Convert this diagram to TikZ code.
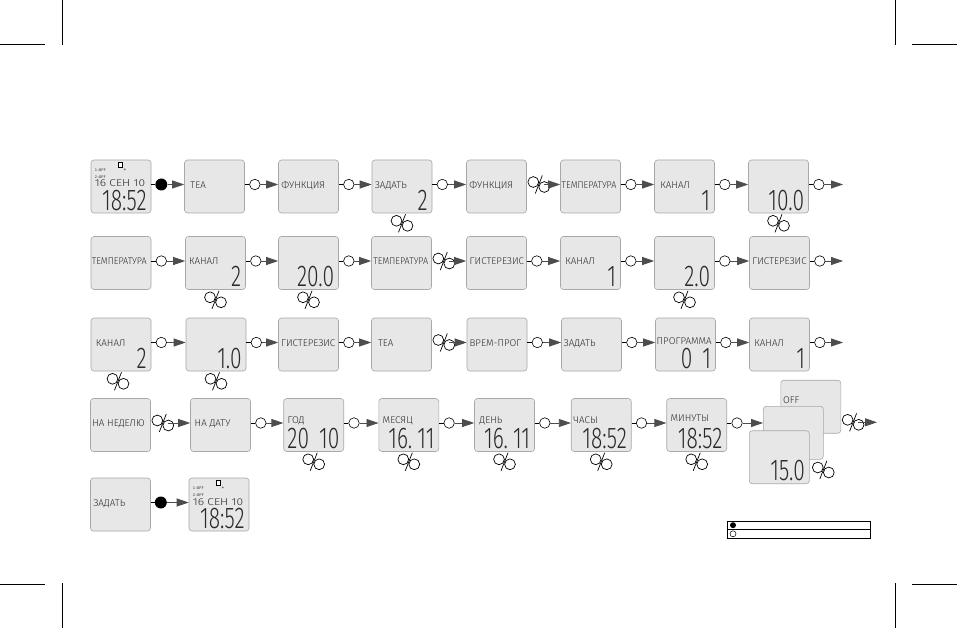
\documentclass[tikz,border=0pt]{standalone}
\usepackage{fontspec}
\usepackage{graphicx}
\usetikzlibrary{arrows.meta,calc}
\newfontfamily\lcdfont{Fira Sans Light}
\newfontfamily\monofont{DejaVu Sans Mono}
\newfontfamily\digfont[FakeStretch=0.7]{Fira Sans Light}
\definecolor{scrfill}{HTML}{E7E7E7}
\definecolor{scrdraw}{HTML}{A8A8A8}
\definecolor{arrgray}{HTML}{4D4D4D}
\definecolor{lcdtext}{HTML}{2A2A2A}
\newcommand\conO[2]{%
  \node[oc] (o#1) at ($([yshift=2pt]#1.east)+(10,0)$) {};
  \draw[cline] ([yshift=2pt]#1.east) -- (o#1.west);
  \draw[carr] (o#1.east) -- (o#1.east -| #2.west);}
\newcommand\conB[2]{%
  \node[bc] (b#1) at ($([yshift=2pt]#1.east)+(10,0)$) {};
  \draw[cline] ([yshift=2pt]#1.east) -- (b#1.west);
  \draw[carr] (b#1.east) -- (b#1.east -| #2.west);}
\newcommand\conK[2]{%
  \pic at ($([yshift=2pt]#1.east)+(12,0)$) {knob};
  \coordinate (k#1) at ($([yshift=2pt]#1.east)+(17,0)$);
  \draw[carr] (k#1) -- (k#1 -| #2.west);}
\newcommand\undK[2][0]{\pic at ($(#2.south)+(#1,10)$) {knob};}
\newcommand\lab[4][0]{\node[lbl] (t#2) at ([xshift=#3pt,yshift=#1pt-1.6pt]#2.west) {#4};}
\newcommand\dig[2]{\node[digs] (d#1) at ([xshift=-4.5pt,yshift=3pt]#1.south east) {#2};}
\newcommand\clockcontent[1]{%
  \node[tinyt] (#1a) at ([xshift=4pt,yshift=16pt]#1.west) {1:OFF};
  \node[tinyt] (#1b) at ([xshift=4pt,yshift=9.5pt]#1.west) {2:OFF};
  \node[draw=black, fill=white, line width=0.8pt, minimum size=4.5pt, inner sep=0pt] (#1i) at ([xshift=-0.5pt,yshift=21.5pt]#1.center) {};
  \node[tinyt, anchor=center, font=\monofont\fontsize{5}{5}\selectfont] (#1s) at ([xshift=4pt,yshift=15.5pt]#1.center) {*};
  \node[lbl, font=\lcdfont\fontsize{10}{10}\selectfont] (#1d) at ([xshift=4pt,yshift=-0.5pt]#1.west) {\scalebox{1.2}[1]{16 СЕН 10}};
  \node[digs] (#1t) at ([xshift=-4.5pt,yshift=2.5pt]#1.south east) {18:52};}
\begin{document}
\begin{tikzpicture}[x=1pt,y=-1pt,
  scr/.style={draw=scrdraw, fill=scrfill, rounded corners=3pt, minimum width=60pt, minimum height=53pt, inner sep=0pt, line width=0.6pt},
  lbl/.style={anchor=base west, inner sep=0pt, font=\lcdfont\fontsize{9.8}{9.8}\selectfont, text=lcdtext},
  tinyt/.style={anchor=west, inner sep=0pt, font=\monofont\fontsize{3.6}{4}\selectfont, text=lcdtext},
  digs/.style={anchor=south east, inner sep=0pt, text height=20pt, text depth=0pt, font=\digfont\fontsize{30}{30}\selectfont, text=lcdtext},
  oc/.style={circle, draw=black, fill=white, minimum size=10.5pt, inner sep=0pt, line width=0.6pt},
  bc/.style={circle, fill=black, minimum size=12pt, inner sep=0pt},
  cline/.style={draw=black, line width=0.6pt},
  carr/.style={draw=arrgray, line width=0.8pt, -{Triangle[length=12pt,width=8pt]}},
  knobline/.style={draw=black, line width=0.7pt},
  knob/.pic={\draw[knobline, fill=white] (-5.5,-2.5) circle[radius=5.4pt] (5.5,2.5) circle[radius=5.4pt]; \draw[knobline] (-3.5,9) -- (3.5,-9);},
  crop/.style={draw=black, line width=0.5pt}
]
\fill[white] (0,0) rectangle (957,628);
\useasboundingbox (0,0) rectangle (957,628);
% crop marks
\draw[crop] (62,0) -- (62,45) (0,44) -- (45,44);
\draw[crop] (895,0) -- (895,45) (912,44) -- (957,44);
\draw[crop] (62,583) -- (62,628) (0,584) -- (45,584);
\draw[crop] (895,583) -- (895,628) (912,584) -- (957,584);
% ---------- row 1
\node[scr] (r1c1) at (121,186.5) {};
\node[scr] (r1c2) at (214.5,186.5) {};
\node[scr] (r1c3) at (308.5,186.5) {};
\node[scr] (r1c4) at (402,186.5) {};
\node[scr] (r1c5) at (496.5,186.5) {};
\node[scr] (r1c6) at (590.5,186.5) {};
\node[scr] (r1c7) at (684.5,186.5) {};
\node[scr] (r1c8) at (778.5,186.5) {};
\clockcontent{r1c1}
\lab{r1c2}{6}{ТЕА}
\lab{r1c3}{3}{ФУНКЦИЯ}
\lab{r1c4}{3}{ЗАДАТЬ}\dig{r1c4}{2}
\lab{r1c5}{3}{ФУНКЦИЯ}
\lab{r1c6}{1.3}{\scalebox{0.92}[1]{ТЕМПЕРАТУРА}}
\lab{r1c7}{6}{КАНАЛ}\dig{r1c7}{1}
\dig{r1c8}{10.0}
\undK{r1c4}\undK{r1c8}
\coordinate (e1) at (843,184.5);
\conB{r1c1}{r1c2}
\conO{r1c2}{r1c3}
\conO{r1c3}{r1c4}
\conO{r1c4}{r1c5}
\conK{r1c5}{r1c6}
\conO{r1c6}{r1c7}
\conO{r1c7}{r1c8}
\conO{r1c8}{e1}
% ---------- row 2
\node[scr] (r2c1) at (121,263) {};
\node[scr] (r2c2) at (215.5,263) {};
\node[scr] (r2c3) at (308.5,263) {};
\node[scr] (r2c4) at (401.5,263) {};
\node[scr] (r2c5) at (496.5,263) {};
\node[scr] (r2c6) at (590.5,263) {};
\node[scr] (r2c7) at (684.5,263) {};
\node[scr] (r2c8) at (779.5,263) {};
\lab{r2c1}{1}{\scalebox{0.92}[1]{ТЕМПЕРАТУРА}}
\lab{r2c2}{3.6}{КАНАЛ}\dig{r2c2}{2}
\dig{r2c3}{20.0}
\lab{r2c4}{2}{\scalebox{0.92}[1]{ТЕМПЕРАТУРА}}
\lab{r2c5}{3.3}{ГИСТЕРЕЗИС}
\lab{r2c6}{5}{КАНАЛ}\dig{r2c6}{1}
\dig{r2c7}{2.0}
\lab{r2c8}{3}{ГИСТЕРЕЗИС}
\undK{r2c2}\undK{r2c3}\undK{r2c7}
\coordinate (e2) at (843,261);
\conO{r2c1}{r2c2}
\conO{r2c2}{r2c3}
\conO{r2c3}{r2c4}
\conK{r2c4}{r2c5}
\conO{r2c5}{r2c6}
\conO{r2c6}{r2c7}
\conO{r2c7}{r2c8}
\conO{r2c8}{e2}
% ---------- row 3
\node[scr] (r3c1) at (121,344.5) {};
\node[scr] (r3c2) at (216,344.5) {};
\node[scr] (r3c3) at (308.5,344.5) {};
\node[scr] (r3c4) at (401.5,344.5) {};
\node[scr] (r3c5) at (497,344.5) {};
\node[scr] (r3c6) at (591.5,344.5) {};
\node[scr] (r3c7) at (685.5,344.5) {};
\node[scr] (r3c8) at (779.5,344.5) {};
\lab{r3c1}{5}{КАНАЛ}\dig{r3c1}{2}
\dig{r3c2}{1.0}
\lab{r3c3}{2.7}{ГИСТЕРЕЗИС}
\lab{r3c4}{6.6}{ТЕА}
\lab{r3c5}{2.7}{ВРЕМ-ПРОГ}
\lab{r3c6}{2.3}{ЗАДАТЬ}
\lab[1.5]{r3c7}{1.3}{ПРОГРАММА}\dig{r3c7}{0\,\,1}
\lab{r3c8}{5}{КАНАЛ}\dig{r3c8}{1}
\undK[-3]{r3c1}\undK{r3c2}
\coordinate (e3) at (843,342.5);
\conO{r3c1}{r3c2}
\conO{r3c2}{r3c3}
\conO{r3c3}{r3c4}
\conK{r3c4}{r3c5}
\conO{r3c5}{r3c6}
\conO{r3c6}{r3c7}
\conO{r3c7}{r3c8}
\conO{r3c8}{e3}
% ---------- row 4
\node[scr] (r4c1) at (120.5,425) {};
\node[scr] (r4c2) at (220.5,425) {};
\node[scr] (r4c3) at (313.7,425) {};
\node[scr] (r4c4) at (408.8,425) {};
\node[scr] (r4c5) at (504.5,425) {};
\node[scr] (r4c6) at (601.2,425) {};
\node[scr] (r4c7) at (696.7,425) {};
\lab{r4c1}{2}{НА НЕДЕЛЮ}
\lab{r4c2}{4.3}{НА ДАТУ}
\lab[3]{r4c3}{4}{ГОД}\dig{r4c3}{20\,\,10}
\lab[3]{r4c4}{4}{МЕСЯЦ}\dig{r4c4}{16.\,11}
\lab[3]{r4c5}{5}{ДЕНЬ}\dig{r4c5}{16.\,11}
\lab[3]{r4c6}{2.3}{ЧАСЫ}\dig{r4c6}{18:52}
\lab[5]{r4c7}{4}{МИНУТЫ}\dig{r4c7}{18:52}
\undK{r4c3}\undK{r4c4}\undK{r4c5}\undK{r4c6}\undK{r4c7}
% stack
\node[scr] (sb) at (810.8,406.7) {};
\node[scr] (sm) at (793.3,432.8) {};
\node[scr] (sf) at (779.3,457.2) {};
\node[lbl] (tsb) at ([xshift=2.5pt,yshift=3.3pt]sb.west) {OFF};
\dig{sf}{15.0}
\pic at ($(sf.east)+(13.7,12.8)$) {knob};
\coordinate (e4) at (877,422.3);
\pic at ($(sb.east)+(12,15.6)$) {knob};
\coordinate (ksb) at ($(sb.east)+(17,15.6)$);
\draw[carr] (ksb) -- (e4);
\conK{r4c1}{r4c2}
\conO{r4c2}{r4c3}
\conO{r4c3}{r4c4}
\conO{r4c4}{r4c5}
\conO{r4c5}{r4c6}
\conO{r4c6}{r4c7}
\conO{r4c7}{sm}
% ---------- row 5
\node[scr] (r5c1) at (120.5,504.5) {};
\node[scr] (r5c2) at (219,504.5) {};
\lab{r5c1}{3}{ЗАДАТЬ}
\clockcontent{r5c2}
\conB{r5c1}{r5c2}
% ---------- legend
\node[draw=black, line width=0.6pt, minimum width=143pt, minimum height=17pt, inner sep=0pt] (leg) at (798.5,529.5) {};
\draw[line width=0.5pt] (leg.west) -- (leg.east);
\node[circle, fill=black, minimum size=6pt, inner sep=0pt] (lg1) at (733,525.2) {};
\node[circle, draw=black, line width=0.5pt, minimum size=6pt, inner sep=0pt] (lg2) at (733,533.8) {};
\end{tikzpicture}
\end{document}
